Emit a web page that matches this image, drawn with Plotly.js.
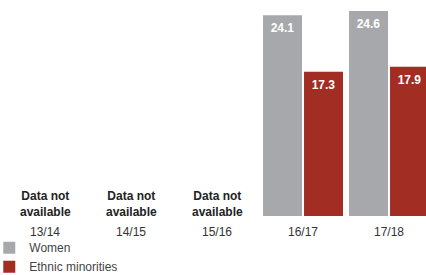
<!DOCTYPE html>
<html>
<head>
<meta charset="utf-8">
<script src="https://cdn.plot.ly/plotly-3.0.1.min.js"></script>
<style>
html,body{margin:0;padding:0;background:#fff;}
#chart{width:426px;height:275px;}
</style>
</head>
<body>
<div id="chart"></div>
<script>
const categories = ["13/14", "14/15", "15/16", "16/17", "17/18"];
const women = [null, null, null, 24.1, 24.6];
const ethnicMinorities = [null, null, null, 17.3, 17.9];
const seriesNames = ["Women", "Ethnic minorities"];
const missingNote = "Data not<br>available";

const FONT = "Liberation Sans, Arial, Helvetica, sans-serif";
const GREY = "#a7a8ab";
const RED = "#a12d23";

function barTrace(name, values, color) {
  return {
    type: "bar",
    name: name,
    x: categories,
    y: values,
    marker: {color: color, line: {width: 0}},
    texttemplate: "<span style='font-size:1px'>&nbsp;</span><br><span style='font-size:12px'>%{y:.1f}</span>",
    textposition: "inside",
    insidetextanchor: "end",
    constraintext: "none",
    textfont: {family: FONT, size: 10, color: "#ffffff", weight: "bold"},
    hoverinfo: "skip"
  };
}

const traces = [
  barTrace(seriesNames[0], women, GREY),
  barTrace(seriesNames[1], ethnicMinorities, RED)
];

const annotations = categories
  .map((c, i) => ({c, i}))
  .filter(o => women[o.i] === null && ethnicMinorities[o.i] === null)
  .map(o => ({
    x: o.c, y: 0, xref: "x", yref: "y",
    yanchor: "bottom", yshift: -5,
    text: "<b>" + missingNote + "</b>",
    showarrow: false,
    align: "center",
    font: {family: FONT, size: 12, color: "#222222"}
  }));

const layout = {
  width: 426, height: 275,
  margin: {l: 2, r: 0, t: 0, b: 59, pad: 0, autoexpand: false},
  paper_bgcolor: "#ffffff",
  plot_bgcolor: "#ffffff",
  barmode: "group",
  bargap: 0.047,
  bargroupgap: 0.049,
  showlegend: true,
  legend: {
    orientation: "v",
    x: -0.03, xanchor: "left",
    y: -0.08, yanchor: "top",
    font: {family: FONT, size: 12, color: "#444444"},
    bgcolor: "rgba(0,0,0,0)",
    traceorder: "normal",
    itemwidth: 30
  },
  xaxis: {
    type: "category",
    range: [-0.5, 4.43],
    showgrid: false, zeroline: false, showline: false,
    ticks: "",
    ticklabelstandoff: 7,
    tickfont: {family: FONT, size: 12, color: "#333333"},
    fixedrange: true
  },
  yaxis: {
    range: [0, 25.92],
    visible: false,
    showgrid: false, zeroline: false,
    fixedrange: true
  },
  annotations: annotations
};

Plotly.newPlot("chart", traces, layout, {displayModeBar: false, staticPlot: true});
</script>
</body>
</html>
